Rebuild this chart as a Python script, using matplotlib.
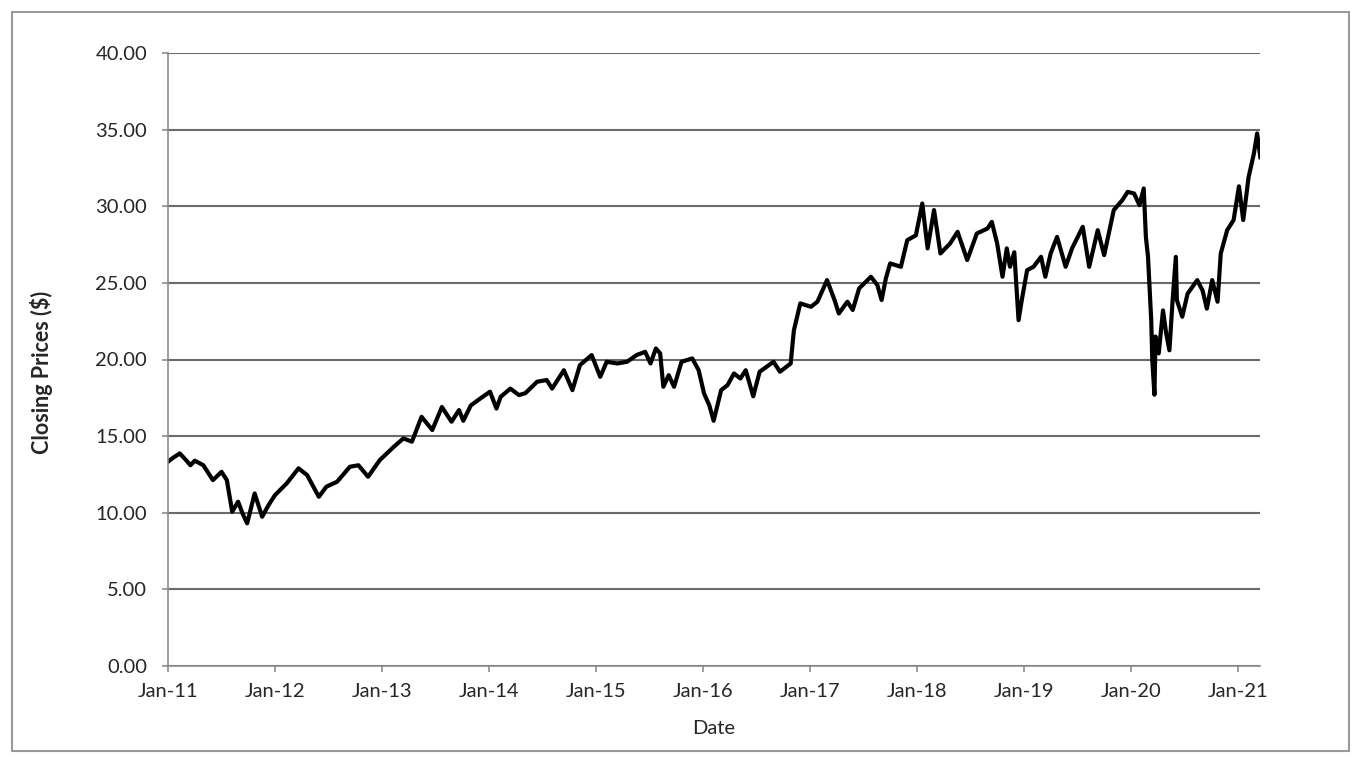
import numpy as np
import pandas as pd
import matplotlib
matplotlib.use("Agg")
import matplotlib.pyplot as plt
import matplotlib.dates as mdates
from matplotlib.patches import Rectangle

# years elapsed since 1 Jan 2011
anos = [0.00, 0.05, 0.11, 0.16, 0.21, 0.25, 0.33, 0.42, 0.50, 0.55, 0.60, 0.655, 0.70, 0.74,
        0.81, 0.88, 0.94, 1.00, 1.11, 1.22, 1.30, 1.41, 1.48, 1.58, 1.70, 1.78, 1.87, 1.98,
        2.11, 2.20, 2.28, 2.37, 2.47, 2.56, 2.65, 2.72, 2.76, 2.83, 2.92, 3.01, 3.07, 3.11,
        3.20, 3.28, 3.34, 3.45, 3.54, 3.59, 3.70, 3.78, 3.85, 3.96, 4.04, 4.10, 4.20, 4.29,
        4.38, 4.46, 4.51, 4.56, 4.60, 4.63, 4.68, 4.73, 4.80, 4.90, 4.96, 5.01, 5.06, 5.10,
        5.17, 5.23, 5.29, 5.35, 5.40, 5.47, 5.53, 5.66, 5.72, 5.82, 5.85, 5.91, 6.01, 6.07,
        6.16, 6.23, 6.27, 6.35, 6.40, 6.46, 6.57, 6.63, 6.67, 6.71, 6.75, 6.85, 6.91, 6.99,
        7.05, 7.10, 7.16, 7.22, 7.31, 7.38, 7.47, 7.56, 7.66, 7.70, 7.75, 7.80, 7.84, 7.87,
        7.91, 7.95, 7.98, 8.03, 8.09, 8.16, 8.20, 8.25, 8.31, 8.39, 8.45, 8.55, 8.61, 8.69,
        8.75, 8.80, 8.84, 8.92, 8.97, 9.03, 9.08, 9.12, 9.14, 9.16, 9.19, 9.20, 9.22, 9.23,
        9.26, 9.30, 9.33, 9.36, 9.39, 9.42, 9.43, 9.48, 9.53, 9.62, 9.67, 9.71, 9.76, 9.81,
        9.84, 9.90, 9.96, 10.01, 10.05, 10.10, 10.15, 10.18, 10.21]

precios = [13.33, 13.6, 13.87, 13.5, 13.1, 13.4, 13.1, 12.13, 12.67, 12.13, 10.07, 10.72, 9.9, 9.31,
           11.26, 9.74, 10.5, 11.15, 11.92, 12.9, 12.46, 11.04, 11.7, 12.02, 13.0, 13.1, 12.35, 13.44,
           14.3, 14.85, 14.64, 16.26, 15.4, 16.9, 15.94, 16.7, 16.0, 17.0, 17.46, 17.9, 16.8, 17.57,
           18.1, 17.68, 17.8, 18.55, 18.66, 18.1, 19.3, 18.0, 19.63, 20.29, 18.87, 19.85, 19.74, 19.85,
           20.29, 20.5, 19.74, 20.72, 20.4, 18.22, 18.98, 18.22, 19.85, 20.07, 19.3, 17.79, 17.0, 16.0,
           18.0, 18.33, 19.09, 18.76, 19.3, 17.6, 19.2, 19.85, 19.2, 19.74, 21.9, 23.66, 23.44, 23.77,
           25.18, 23.88, 23.0, 23.77, 23.23, 24.64, 25.4, 24.86, 23.88, 25.3, 26.27, 26.05, 27.79, 28.1,
           30.18, 27.25, 29.75, 26.92, 27.57, 28.33, 26.49, 28.22, 28.55, 28.98, 27.57, 25.4, 27.25, 26.05,
           27.0, 22.57, 23.87, 25.83, 26.05, 26.7, 25.4, 26.92, 28.0, 26.05, 27.25, 28.66, 26.05, 28.44,
           26.81, 28.44, 29.75, 30.4, 30.94, 30.83, 30.07, 31.16, 28.0, 26.7, 22.57, 19.96, 17.7, 21.5,
           20.4, 23.2, 21.7, 20.6, 23.87, 26.7, 23.87, 22.79, 24.3, 25.18, 24.5, 23.32, 25.18, 23.77,
           26.92, 28.44, 29.1, 31.3, 29.1, 31.9, 33.45, 34.75, 33.2]

y_ticks = [0, 5, 10, 15, 20, 25, 30, 35, 40]

fechas = pd.Timestamp("2011-01-01") + pd.to_timedelta(np.array(anos) * 365.25, unit="D")

plt.rcParams['font.family'] = ['Lato', 'DejaVu Sans']

fig = plt.figure(figsize=(13.64, 7.66), dpi=100)
ax = fig.add_axes([168 / 1364, 1 - 666 / 766, (1260 - 168) / 1364, (666 - 53) / 766])

# marco exterior del grafico
fig.patches.append(Rectangle((12 / 1364, 1 - 751 / 766), (1349 - 12) / 1364, (751 - 12) / 766,
                             transform=fig.transFigure, fill=False, edgecolor='#9a9a9a', lw=1.5))

ax.plot(fechas, precios, color='black', lw=3.0, solid_joinstyle='round')

ax.set_ylim(0, 40)
ax.set_yticks(y_ticks)
ax.yaxis.set_major_formatter(matplotlib.ticker.FormatStrFormatter('%.2f'))
ax.set_xlim(pd.Timestamp("2011-01-01"), pd.Timestamp("2021-03-17"))
ax.xaxis.set_major_locator(mdates.YearLocator())
ax.xaxis.set_major_formatter(mdates.DateFormatter('%b-%y'))

ax.grid(axis='y', color='#6a6a6a', lw=1.5)
ax.set_axisbelow(True)
for lado in ['top', 'right']:
    ax.spines[lado].set_visible(False)
for lado in ['left', 'bottom']:
    ax.spines[lado].set_color('#8c8c8c')
    ax.spines[lado].set_linewidth(1.2)

ax.tick_params(axis='y', direction='out', length=4, width=1.2, color='#8c8c8c',
               labelsize=14.5, labelcolor='#262626', pad=11)
ax.tick_params(axis='x', direction='out', length=4, width=1.2, color='#8c8c8c',
               labelsize=14.5, labelcolor='#262626', pad=8)

ax.set_ylabel('Closing Prices ($)', fontsize=15.5, fontweight='bold', color='#262626', va='center')
ax.yaxis.set_label_coords((42 - 168) / 1092, (666 - 372) / 613)
ax.set_xlabel('Date', fontsize=14.5, color='#262626', va='center')
ax.xaxis.set_label_coords(0.5, (666 - 728) / 613)

plt.savefig('out.png', dpi=100)
